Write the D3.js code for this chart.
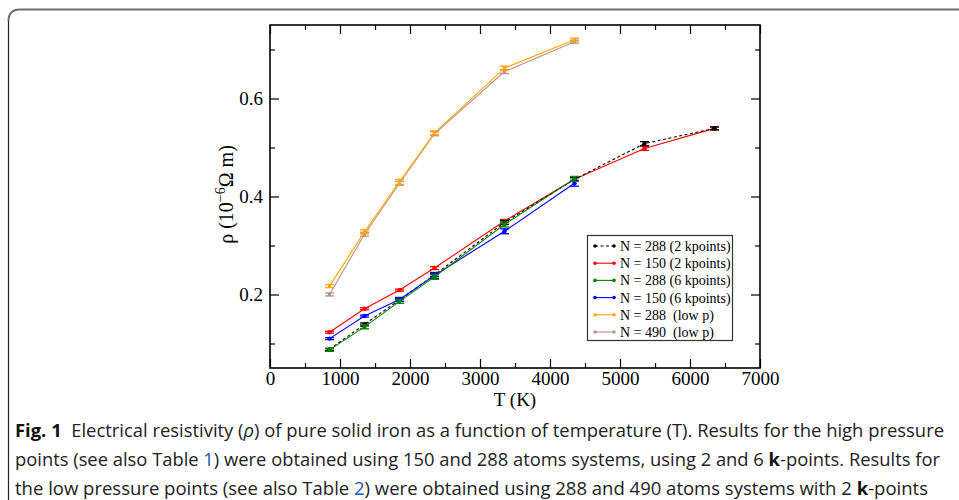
<!DOCTYPE html>
<html>
<head>
<meta charset="utf-8">
<script src="https://cdn.jsdelivr.net/npm/d3@7"></script>
<style>
  html, body { margin: 0; padding: 0; background: #fff; }
  svg { display: block; }
  text { white-space: pre; }
</style>
</head>
<body>
<div id="chart"></div>
<script>
// ---------- data ----------
const T_high = [850, 1350, 1850, 2350, 3350, 4350, 5350, 6350];
const rho_288_2k = [0.088, 0.139, 0.189, 0.240, 0.347, 0.435, 0.508, 0.539];
const err_288_2k = [0.002, 0.003, 0.003, 0.003, 0.004, 0.004, 0.004, 0.003];
const rho_150_2k = [0.123, 0.171, 0.209, 0.254, 0.350, 0.435, 0.498, 0.539];
const err_150_2k = [0.002, 0.002, 0.002, 0.003, 0.003, 0.003, 0.004, 0.003];

const T_6k = [850, 1350, 1850, 2350, 3350, 4350];
const rho_288_6k = [0.087, 0.134, 0.186, 0.236, 0.343, 0.436];
const err_288_6k = [0.003, 0.004, 0.004, 0.005, 0.005, 0.005];
const rho_150_6k = [0.110, 0.156, 0.190, 0.239, 0.329, 0.427];
const err_150_6k = [0.002, 0.002, 0.004, 0.006, 0.005, 0.006];

const T_low = [850, 1350, 1850, 2350, 3350, 4350];
const rho_288_low = [0.217, 0.328, 0.430, 0.530, 0.662, 0.720];
const err_288_low = [0.003, 0.004, 0.005, 0.004, 0.004, 0.003];
const rho_490_low = [0.200, 0.323, 0.427, 0.528, 0.655, 0.716];
const err_490_low = [0.003, 0.004, 0.004, 0.004, 0.004, 0.003];

const seriesNames = ["N = 288 (2 kpoints)", "N = 150 (2 kpoints)", "N = 288 (6 kpoints)",
                     "N = 150 (6 kpoints)", "N = 288  (low p)", "N = 490  (low p)"];
const xMajorTicks = [0, 1000, 2000, 3000, 4000, 5000, 6000, 7000];
const xMinorTicks = [500, 1500, 2500, 3500, 4500, 5500, 6500];
const yMajorTicks = [0.2, 0.4, 0.6];
const yMinorTicks = [0.1, 0.3, 0.5, 0.7];

// ---------- series table built from arrays ----------
const series = [
  {name: seriesNames[0], T: T_high, v: rho_288_2k, e: err_288_2k, color: "#000000", dash: "3,2.5", marker: "circle"},
  {name: seriesNames[1], T: T_high, v: rho_150_2k, e: err_150_2k, color: "#ff0000", dash: null, marker: "circle"},
  {name: seriesNames[2], T: T_6k,  v: rho_288_6k, e: err_288_6k, color: "#008000", dash: null, marker: "circle"},
  {name: seriesNames[3], T: T_6k,  v: rho_150_6k, e: err_150_6k, color: "#0000ff", dash: null, marker: "circle"},
  {name: seriesNames[4], T: T_low, v: rho_288_low, e: err_288_low, color: "#ffa500", dash: null, marker: "square"},
  {name: seriesNames[5], T: T_low, v: rho_490_low, e: err_490_low, color: "#bc8f8f", dash: null, marker: "square"}
];
const drawOrder = [5, 4, 1, 0, 3, 2];

// ---------- layout ----------
const W = 959, H = 500;
const svg = d3.select("#chart").append("svg").attr("width", W).attr("height", H);
svg.append("rect").attr("width", W).attr("height", H).attr("fill", "#fff");

// card frame
svg.append("path").attr("d", "M8.5,500 V21").attr("fill", "none").attr("stroke", "#222").attr("stroke-width", 1.2);
svg.append("path").attr("d", "M8.5,21 Q8.5,9.5 20,9.5 H959").attr("fill", "none").attr("stroke", "#6e6e6e").attr("stroke-width", 2);

const plot = {left: 270, right: 760, top: 25, bottom: 368};
const x = d3.scaleLinear().domain([0, 7000]).range([plot.left, plot.right]);
const y = d3.scaleLinear().domain([0.05, 0.75]).range([plot.bottom, plot.top]);

const serif = "'Liberation Serif', 'Times New Roman', serif";

function styleAxis(g) {
  g.select(".domain").remove();
  g.selectAll(".tick line").attr("stroke", "#000").attr("stroke-width", 1.2);
  g.selectAll(".tick text").attr("font-family", serif).attr("font-size", 19).attr("fill", "#000");
}
svg.append("g").attr("transform", `translate(0,${plot.bottom})`)
  .call(d3.axisBottom(x).tickValues(xMajorTicks).tickSize(-9).tickPadding(4).tickFormat(d3.format("d")))
  .call(styleAxis);
svg.append("g").attr("transform", `translate(0,${plot.bottom})`)
  .call(d3.axisBottom(x).tickValues(xMinorTicks).tickSize(-5).tickFormat(""))
  .call(styleAxis);
svg.append("g").attr("transform", `translate(0,${plot.top})`)
  .call(d3.axisTop(x).tickValues(xMajorTicks).tickSize(-9).tickFormat(""))
  .call(styleAxis);
svg.append("g").attr("transform", `translate(0,${plot.top})`)
  .call(d3.axisTop(x).tickValues(xMinorTicks).tickSize(-5).tickFormat(""))
  .call(styleAxis);
svg.append("g").attr("transform", `translate(${plot.left},0)`)
  .call(d3.axisLeft(y).tickValues(yMajorTicks).tickSize(-9).tickPadding(7).tickFormat(d3.format(".1f")))
  .call(styleAxis);
svg.append("g").attr("transform", `translate(${plot.left},0)`)
  .call(d3.axisLeft(y).tickValues(yMinorTicks).tickSize(-5).tickFormat(""))
  .call(styleAxis);
svg.append("g").attr("transform", `translate(${plot.right},0)`)
  .call(d3.axisRight(y).tickValues(yMajorTicks).tickSize(-9).tickFormat(""))
  .call(styleAxis);
svg.append("g").attr("transform", `translate(${plot.right},0)`)
  .call(d3.axisRight(y).tickValues(yMinorTicks).tickSize(-5).tickFormat(""))
  .call(styleAxis);

svg.append("rect")
  .attr("x", plot.left).attr("y", plot.top)
  .attr("width", plot.right - plot.left).attr("height", plot.bottom - plot.top)
  .attr("fill", "none").attr("stroke", "#000").attr("stroke-width", 1.6);

// axis titles
svg.append("text").attr("x", (plot.left + plot.right) / 2).attr("y", 406)
  .attr("text-anchor", "middle").attr("font-family", serif).attr("font-size", 19)
  .text("T (K)");
const yl = svg.append("text")
  .attr("transform", `translate(233,${(plot.top + plot.bottom) / 2 - 2}) rotate(-90)`)
  .attr("text-anchor", "middle").attr("font-family", serif).attr("font-size", 20);
yl.append("tspan").text("ρ (10");
yl.append("tspan").attr("dy", -8).attr("font-size", 14).text("−6");
yl.append("tspan").attr("dy", 8).text("Ω m)");

// series
const line = d3.line().x(d => x(d[0])).y(d => y(d[1]));
const capW = 4.5;
drawOrder.forEach(i => {
  const s = series[i];
  const pts = s.T.map((t, k) => [t, s.v[k], s.e[k]]);
  const g = svg.append("g");
  g.append("path").datum(pts).attr("d", line)
    .attr("fill", "none").attr("stroke", s.color).attr("stroke-width", 1.1)
    .attr("stroke-dasharray", s.dash);
  const eb = g.selectAll(".eb").data(pts).enter().append("g");
  eb.append("line").attr("x1", d => x(d[0])).attr("x2", d => x(d[0]))
    .attr("y1", d => y(d[1] - d[2])).attr("y2", d => y(d[1] + d[2]))
    .attr("stroke", s.color).attr("stroke-width", 1.2);
  eb.append("line").attr("x1", d => x(d[0]) - capW).attr("x2", d => x(d[0]) + capW)
    .attr("y1", d => y(d[1] - d[2])).attr("y2", d => y(d[1] - d[2]))
    .attr("stroke", s.color).attr("stroke-width", 1.3);
  eb.append("line").attr("x1", d => x(d[0]) - capW).attr("x2", d => x(d[0]) + capW)
    .attr("y1", d => y(d[1] + d[2])).attr("y2", d => y(d[1] + d[2]))
    .attr("stroke", s.color).attr("stroke-width", 1.3);
  if (s.marker === "circle") {
    g.selectAll(".m").data(pts).enter().append("circle")
      .attr("cx", d => x(d[0])).attr("cy", d => y(d[1])).attr("r", 2.2).attr("fill", s.color);
  } else {
    g.selectAll(".m").data(pts).enter().append("rect")
      .attr("x", d => x(d[0]) - 1.6).attr("y", d => y(d[1]) - 1.6)
      .attr("width", 3.2).attr("height", 3.2).attr("fill", s.color);
  }
});

// legend
const leg = svg.append("g");
leg.append("rect").attr("x", 587.5).attr("y", 235.5).attr("width", 145).attr("height", 105)
  .attr("fill", "#fff").attr("stroke", "#333").attr("stroke-width", 1.2);
series.forEach((s, i) => {
  const ly = 246 + i * 17.2;
  const g = leg.append("g");
  g.append("line").attr("x1", 595).attr("x2", 614).attr("y1", ly).attr("y2", ly)
    .attr("stroke", s.color).attr("stroke-width", 1.1).attr("stroke-dasharray", s.dash);
  [595, 614].forEach(px => {
    if (s.marker === "circle") {
      g.append("circle").attr("cx", px).attr("cy", ly).attr("r", 1.8).attr("fill", s.color);
    } else {
      g.append("rect").attr("x", px - 1.5).attr("y", ly - 1.5).attr("width", 3).attr("height", 3).attr("fill", s.color);
    }
  });
  g.append("text").attr("x", 620).attr("y", ly).attr("dy", "0.35em")
    .attr("font-family", serif).attr("font-size", 14).attr("fill", "#000").text(s.name);
});

// caption
const capFont = "'Open Sans', 'Noto Sans', sans-serif";
const cap = svg.append("g").attr("font-family", capFont).attr("font-size", 18).attr("fill", "#222");
const l1 = cap.append("text").attr("x", 15).attr("y", 437)
  .attr("textLength", 929).attr("lengthAdjust", "spacingAndGlyphs");
l1.append("tspan").attr("font-weight", "bold").attr("fill", "#111").text("Fig. 1");
l1.append("tspan").text("  Electrical resistivity (");
l1.append("tspan").attr("font-style", "italic").text("ρ");
l1.append("tspan").text(") of pure solid iron as a function of temperature (T). Results for the high pressure");

const l2 = cap.append("text").attr("x", 15).attr("y", 466)
  .attr("textLength", 925).attr("lengthAdjust", "spacingAndGlyphs");
l2.append("tspan").text("points (see also Table ");
l2.append("tspan").attr("fill", "#1a55c4").text("1");
l2.append("tspan").text(") were obtained using 150 and 288 atoms systems, using 2 and 6 ");
l2.append("tspan").attr("font-weight", "bold").attr("fill", "#111").text("k");
l2.append("tspan").text("-points. Results for");

const l3 = cap.append("text").attr("x", 15).attr("y", 495)
  .attr("textLength", 913).attr("lengthAdjust", "spacingAndGlyphs");
l3.append("tspan").text("the low pressure points (see also Table ");
l3.append("tspan").attr("fill", "#1a55c4").text("2");
l3.append("tspan").text(") were obtained using 288 and 490 atoms systems with 2 ");
l3.append("tspan").attr("font-weight", "bold").attr("fill", "#111").text("k");
l3.append("tspan").text("-points");
</script>
</body>
</html>
